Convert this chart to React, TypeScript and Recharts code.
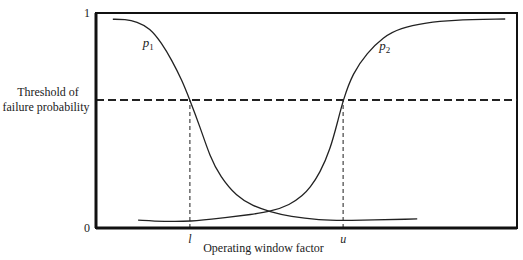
import { type CSSProperties } from 'react'
import {
  LineChart,
  Line,
  XAxis,
  YAxis,
  ReferenceLine,
  ReferenceArea,
  ReferenceDot,
} from 'recharts'

// failure probability curves (x: operating window factor, 0..10)
const p1X = [0.4, 0.69, 0.97, 1.28, 1.56, 1.8, 2.04, 2.23, 2.47, 2.71, 2.95, 3.34, 3.73, 4.13, 4.61, 5.32, 5.87, 7.63]
const p1Y = [0.971, 0.971, 0.96, 0.93, 0.86, 0.781, 0.688, 0.595, 0.471, 0.33, 0.239, 0.146, 0.102, 0.076, 0.053, 0.037, 0.034, 0.042]

const p2X = [1.0, 1.64, 2.23, 2.95, 3.73, 4.13, 4.61, 4.92, 5.08, 5.32, 5.56, 5.75, 5.87, 6.1, 6.44, 6.82, 7.22, 7.86, 8.41, 9.72]
const p2Y = [0.037, 0.03, 0.03, 0.045, 0.064, 0.076, 0.107, 0.153, 0.186, 0.256, 0.363, 0.502, 0.595, 0.721, 0.814, 0.888, 0.93, 0.955, 0.967, 0.972]

const threshold = 0.595
const lowerX = 2.23
const upperX = 5.87
const xTickLabels: Record<number, string> = { [lowerX]: 'l', [upperX]: 'u' }

const p1Data = p1X.map((x, i) => ({ x, p: p1Y[i] }))
const p2Data = p2X.map((x, i) => ({ x, p: p2Y[i] }))

const serif = '"Liberation Serif", "DejaVu Serif", serif'

const wrapStyle: CSSProperties = {
  position: 'absolute',
  left: 0,
  top: 0,
  width: 523,
  height: 260,
  background: '#fff',
}

function YTick(props: any) {
  const { x, y, payload } = props
  if (payload.value === threshold) {
    return (
      <text x={46} y={y} textAnchor="middle" fontFamily={serif} fontSize={12} fill="#222">
        <tspan x={48} dy={-4}>Threshold of</tspan>
        <tspan x={46} dy={15}>failure probability</tspan>
      </text>
    )
  }
  return (
    <text x={x} y={y} dy={4} textAnchor="end" fontFamily={serif} fontSize={12} fill="#222">
      {payload.value}
    </text>
  )
}

function XTick(props: any) {
  const { x, y, payload } = props
  return (
    <text x={x} y={y} dy={9} textAnchor="middle" fontFamily={serif} fontStyle="italic" fontSize={12} fill="#222">
      {xTickLabels[payload.value]}
    </text>
  )
}

function curveLabel(sub: string) {
  return (props: any) => (
    <text x={props.cx} y={props.cy} textAnchor="middle" fontFamily={serif} fontSize={13} fill="#222">
      <tspan fontStyle="italic">p</tspan>
      <tspan fontSize={9} dy={3}>{sub}</tspan>
    </text>
  )
}

export default function App() {
  return (
    <div style={wrapStyle}>
      <LineChart width={523} height={260} margin={{ top: 13, right: 6, bottom: 0, left: 0 }}>
        <XAxis
          type="number"
          dataKey="x"
          domain={[0, 10]}
          ticks={[lowerX, upperX]}
          tick={<XTick />}
          tickLine={false}
          tickSize={4}
          axisLine={{ stroke: '#111', strokeWidth: 3 }}
          height={32}
          allowDuplicatedCategory={false}
          label={{
            value: 'Operating window factor',
            position: 'insideBottom',
            offset: 8,
            dx: -43,
            style: { fontFamily: serif, fontSize: 12, fill: '#222' },
          }}
        />
        <YAxis
          type="number"
          domain={[0, 1]}
          ticks={[0, threshold, 1]}
          tick={<YTick />}
          tickLine={false}
          tickSize={4}
          axisLine={{ stroke: '#111', strokeWidth: 3 }}
          width={96}
        />
        <ReferenceArea x1={0} x2={10} y1={0} y2={1} fill="none" stroke="#111" strokeWidth={2} ifOverflow="visible" />
        <ReferenceLine y={threshold} stroke="#222" strokeWidth={2} strokeDasharray="8 4" />
        <ReferenceLine
          segment={[{ x: lowerX, y: 0 }, { x: lowerX, y: threshold }]}
          stroke="#444"
          strokeWidth={1.2}
          strokeDasharray="4 3"
        />
        <ReferenceLine
          segment={[{ x: upperX, y: 0 }, { x: upperX, y: threshold }]}
          stroke="#444"
          strokeWidth={1.2}
          strokeDasharray="4 3"
        />
        <Line
          data={p1Data}
          dataKey="p"
          type="basis"
          stroke="#222"
          strokeWidth={1.3}
          dot={false}
          activeDot={false}
          isAnimationActive={false}
        />
        <Line
          data={p2Data}
          dataKey="p"
          type="basis"
          stroke="#222"
          strokeWidth={1.3}
          dot={false}
          activeDot={false}
          isAnimationActive={false}
        />
        <ReferenceDot x={1.24} y={0.84} r={0} shape={curveLabel('1')} />
        <ReferenceDot x={6.86} y={0.83} r={0} shape={curveLabel('2')} />
      </LineChart>
    </div>
  )
}
